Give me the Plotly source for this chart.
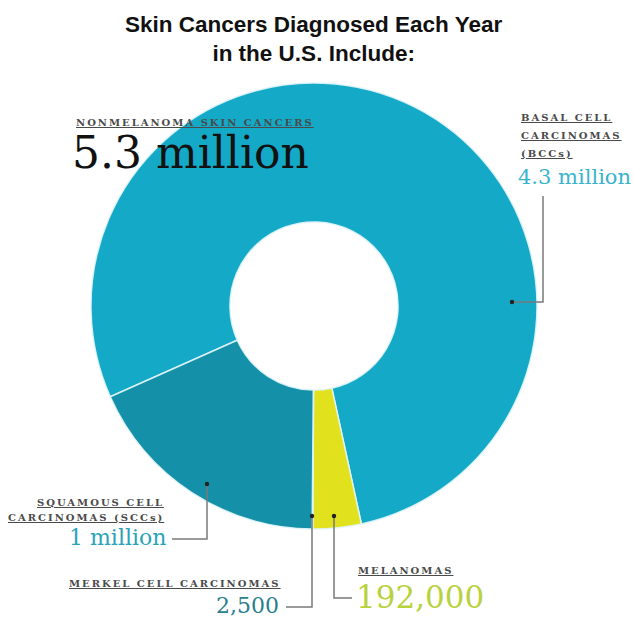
import plotly.graph_objects as go

W, H = 635, 617

# ---- data ----
categories = ["Basal cell carcinomas", "Melanomas", "Merkel cell carcinomas", "Squamous cell carcinomas"]
values = [4300000, 192000, 2500, 1000000]
value_labels = ["4.3 million", "192,000", "2,500", "1 million"]
total_label = "5.3 million"
title_lines = ["Skin Cancers Diagnosed Each Year", "in the U.S. Include:"]

slice_colors = ["#13a9c7", "#e2e11e", "#f4f4f4", "#1491a8"]

def px(x):
    return x / W

def py(y):
    return 1 - y / H

fig = go.Figure()
fig.add_trace(go.Pie(
    labels=categories, values=values, sort=False, direction="clockwise",
    rotation=246, hole=0.377, textinfo="none", hoverinfo="label+value",
    marker=dict(colors=slice_colors, line=dict(color="rgba(225,245,250,0.9)", width=1.5)),
    domain=dict(x=[px(91), px(537)], y=[py(529), py(83)]),
    showlegend=False,
))

ann = []

def text(x, y, s, size, color, family, xanchor="left", bold=False, spacing=None, underline=False):
    body = s
    if spacing is not None:
        body = f'<span style="letter-spacing:{spacing}px">{body}</span>'
    if underline:
        body = f"<u>{body}</u>"
    if bold:
        body = f"<b>{body}</b>"
    ann.append(dict(x=px(x), y=py(y), xref="paper", yref="paper", text=body, showarrow=False,
                    xanchor=xanchor, yanchor="middle", align="center" if xanchor == "center" else xanchor,
                    font=dict(size=size, color=color, family=family)))

SANS = "Liberation Sans, Arial, sans-serif"
SERIF = "DejaVu Serif, serif"
LBL = "#4a4a4a"

text(314, 39, "<br>".join(title_lines), 22.5, "#111", SANS, xanchor="center", bold=True)

text(74, 122, "NONMELANOMA SKIN CANCERS", 10, LBL, SERIF, bold=True, spacing=2, underline=True)
text(70, 152, total_label, 44, "#111", SERIF)

text(519, 117, "BASAL CELL", 10, LBL, SERIF, bold=True, spacing=2, underline=True)
text(519, 135, "CARCINOMAS", 10, LBL, SERIF, bold=True, spacing=2, underline=True)
text(519, 153, "(BCCs)", 10, LBL, SERIF, bold=True, spacing=2, underline=True)
text(516, 177, value_labels[0], 21, "#3ab4cb", SERIF)

text(166, 502, "SQUAMOUS CELL", 10, LBL, SERIF, xanchor="right", bold=True, spacing=2, underline=True)
text(166, 517, "CARCINOMAS (SCCs)", 10, LBL, SERIF, xanchor="right", bold=True, spacing=2, underline=True)
text(168, 537, value_labels[3], 22, "#2aa3b8", SERIF, xanchor="right")

text(283, 583, "MERKEL CELL CARCINOMAS", 10, LBL, SERIF, xanchor="right", bold=True, spacing=2, underline=True)
text(281, 605, value_labels[2], 22, "#2a7f8e", SERIF, xanchor="right")

text(356, 570, "MELANOMAS", 10, LBL, SERIF, bold=True, spacing=2, underline=True)
text(354, 597, value_labels[1], 31, "#b8d23e", SERIF)

shapes = []

def polyline(pts):
    path = "M " + " L ".join(f"{px(x)},{py(y)}" for x, y in pts)
    shapes.append(dict(type="path", xref="paper", yref="paper", path=path,
                       line=dict(color="#7a7a7a", width=1.5)))

def dot(x, y, r=2.2):
    shapes.append(dict(type="circle", xref="paper", yref="paper",
                       x0=px(x - r), x1=px(x + r), y0=py(y + r), y1=py(y - r),
                       fillcolor="#222", line=dict(width=0)))

polyline([(512, 302), (543, 302), (543, 196)])
dot(512, 302)
polyline([(207, 484), (207, 539), (172, 539)])
dot(207, 484)
polyline([(312, 516), (312, 607), (286, 607)])
dot(312, 516)
polyline([(334, 516), (334, 598), (352, 598)])
dot(334, 516)

fig.update_layout(
    width=W, height=H, margin=dict(l=0, r=0, t=0, b=0),
    paper_bgcolor="white", plot_bgcolor="white",
    annotations=ann, shapes=shapes,
)

fig.write_html("out.html", config={"displayModeBar": False},
               post_script="document.body.style.margin='0';document.body.style.overflow='hidden';")
